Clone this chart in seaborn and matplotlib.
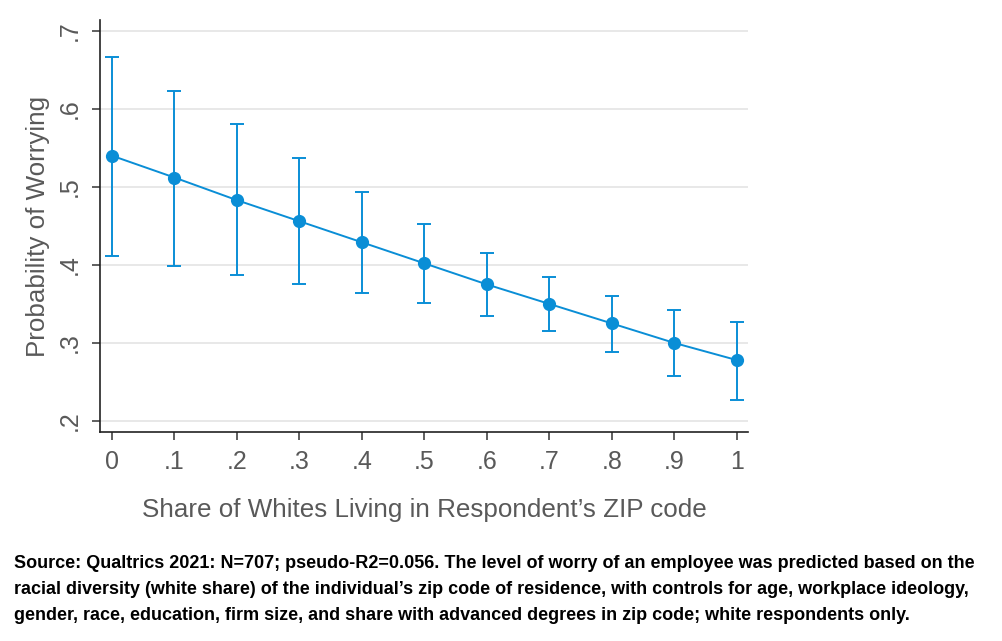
import matplotlib
matplotlib.use("Agg")
import matplotlib.pyplot as plt
import seaborn as sns
import numpy as np
import pandas as pd

# Predicted probabilities with 95% CIs
white_share = [0.0, 0.1, 0.2, 0.3, 0.4, 0.5, 0.6, 0.7, 0.8, 0.9, 1.0]
prob = [0.540, 0.512, 0.483, 0.456, 0.429, 0.402, 0.375, 0.350, 0.325, 0.300, 0.278]
ci_low = [0.411, 0.399, 0.387, 0.376, 0.364, 0.351, 0.335, 0.315, 0.289, 0.258, 0.227]
ci_high = [0.667, 0.623, 0.580, 0.537, 0.494, 0.453, 0.415, 0.385, 0.360, 0.342, 0.327]

x_ticks = [0, 0.1, 0.2, 0.3, 0.4, 0.5, 0.6, 0.7, 0.8, 0.9, 1.0]
x_labels = ["0", ".1", ".2", ".3", ".4", ".5", ".6", ".7", ".8", ".9", "1"]
y_ticks = [0.2, 0.3, 0.4, 0.5, 0.6, 0.7]
y_labels = [".2", ".3", ".4", ".5", ".6", ".7"]

caption = ("Source: Qualtrics 2021: N=707; pseudo-R2=0.056. The level of worry of an employee was predicted based on the\n"
           "racial diversity (white share) of the individual\u2019s zip code of residence, with controls for age, workplace ideology,\n"
           "gender, race, education, firm size, and share with advanced degrees in zip code; white respondents only.")

df = pd.DataFrame({"share": white_share, "prob": prob, "lo": ci_low, "hi": ci_high})

sns.set_style("white")
plt.rcParams["font.family"] = ["Liberation Sans", "DejaVu Sans"]

blue = "#0a8ed6"
grey = "#595959"

fig = plt.figure(figsize=(10.02, 6.41), dpi=100)
ax = fig.add_axes([0.0998, 0.326, 0.6467, 0.643])

ax.errorbar(df["share"], df["prob"],
            yerr=[df["prob"] - df["lo"], df["hi"] - df["prob"]],
            fmt="none", ecolor=blue, elinewidth=1.4, capsize=5, capthick=1.4, zorder=2)
sns.lineplot(data=df, x="share", y="prob", color=blue, linewidth=1.4,
             marker="o", markersize=9.5, markeredgewidth=0, ax=ax, zorder=3)

ax.set_xlim(-0.019, 1.0176)
ax.set_ylim(0.1859, 0.714)
ax.set_xticks(x_ticks)
ax.set_xticklabels(x_labels)
ax.set_yticks(y_ticks)
ax.set_yticklabels(y_labels, rotation=90, va="center")

ax.yaxis.grid(True, color="#e4e4e4", linewidth=1.2)
ax.xaxis.grid(False)
for side in ["top", "right"]:
    ax.spines[side].set_visible(False)
for side in ["left", "bottom"]:
    ax.spines[side].set_color("#222222")
    ax.spines[side].set_linewidth(1.2)

ax.tick_params(axis="both", which="both", direction="out", length=6, width=1.2,
               color="#444444", labelcolor=grey, labelsize=18, pad=7)
ax.tick_params(axis="y", left=True)
ax.tick_params(axis="x", bottom=True)

ax.set_xlabel("Share of Whites Living in Respondent\u2019s ZIP code", fontsize=18.7, color=grey, labelpad=17)
ax.set_ylabel("Probability of Worrying", fontsize=18.7, color=grey, labelpad=6)

fig.text(0.014, 0.134, caption, fontsize=13, fontweight="bold", color="black",
         ha="left", va="top", linespacing=1.7)

fig.savefig("out.png", dpi=100)
